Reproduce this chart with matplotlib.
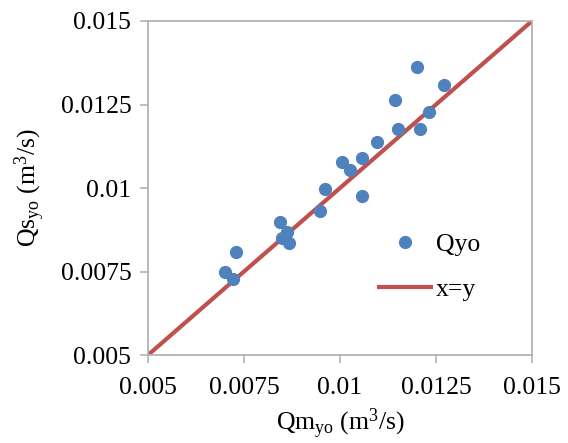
import matplotlib
matplotlib.use("Agg")
import matplotlib.pyplot as plt
from matplotlib.ticker import FixedLocator

qm_yo = [0.00700, 0.00721, 0.00729, 0.00845, 0.00848, 0.00861, 0.00866, 0.00949,
         0.00960, 0.01006, 0.01027, 0.01056, 0.01058, 0.01097, 0.01142, 0.01152,
         0.01201, 0.01209, 0.01232, 0.01271]
qs_yo = [0.00749, 0.00728, 0.00808, 0.00898, 0.00850, 0.00868, 0.00835, 0.00931,
         0.00997, 0.01078, 0.01054, 0.00976, 0.01090, 0.01138, 0.01263, 0.01177,
         0.01362, 0.01177, 0.01228, 0.01308]
line_xy = [0.005, 0.015]
ticks = [0.005, 0.0075, 0.01, 0.0125, 0.015]
tick_labels = ["0.005", "0.0075", "0.01", "0.0125", "0.015"]

plt.rcParams['font.family'] = ['Liberation Serif', 'DejaVu Serif']
plt.rcParams['mathtext.fontset'] = 'custom'
plt.rcParams['mathtext.rm'] = 'Liberation Serif'
plt.rcParams['mathtext.it'] = 'Liberation Serif:italic'
plt.rcParams['mathtext.bf'] = 'Liberation Serif:bold'

FS = 18.5
fig = plt.figure(figsize=(5.68, 4.43), dpi=100)
ax = fig.add_axes([0.2606, 0.1986, 0.6760, 0.7540])

ax.plot(qm_yo, qs_yo, 'o', color='#4F81BD', ms=8.5, label='Qyo', zorder=3)
ax.plot(line_xy, line_xy, '-', color='#C0504D', lw=3, label='x=y', zorder=2,
        solid_capstyle='butt')

ax.set_xlim(0.005, 0.015)
ax.set_ylim(0.005, 0.015)
ax.xaxis.set_major_locator(FixedLocator(ticks))
ax.yaxis.set_major_locator(FixedLocator(ticks))
ax.set_xticklabels(tick_labels)
ax.set_yticklabels(tick_labels)
for s in ax.spines.values():
    s.set_color('#B3B3B3')
    s.set_linewidth(1.3)
ax.tick_params(axis='both', direction='out', length=6, width=1.2, color='#B3B3B3',
               labelsize=FS, labelcolor='black')
ax.tick_params(axis='x', pad=10)
ax.tick_params(axis='y', pad=6)

ax.set_xlabel(r'Qm$_{\rm yo}$ (m$^{\rm 3}$/s)', fontsize=FS, labelpad=5)
ax.set_ylabel(r'Qs$_{\rm yo}$ (m$^{\rm 3}$/s)', fontsize=FS, labelpad=10)

leg = ax.legend(loc='lower right', bbox_to_anchor=(0.9245, 0.093), frameon=False,
                fontsize=FS, handlelength=2.15, handletextpad=0.12, labelspacing=0.86)

fig.savefig('out.png', dpi=100)
